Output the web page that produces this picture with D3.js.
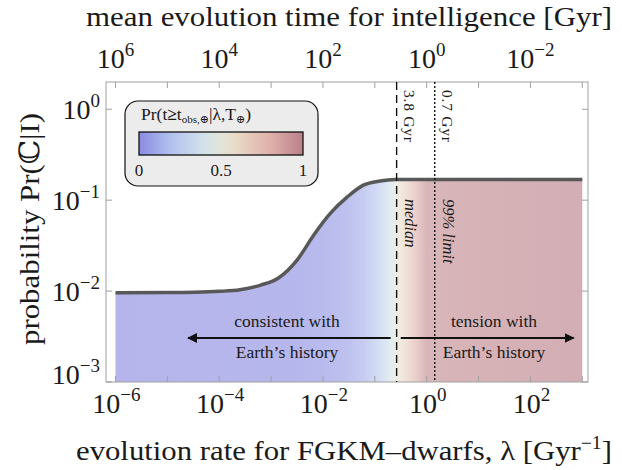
<!DOCTYPE html>
<html>
<head>
<meta charset="utf-8">
<script src="https://cdn.jsdelivr.net/npm/d3@7"></script>
<style>
  body { margin: 0; background: #fff; }
  svg { display: block; }
  text { font-family: "Liberation Serif", "DejaVu Serif", serif; fill: #1a1a1a; }
</style>
</head>
<body>
<script>
// ---- data ----
// probability curve, x given as log10(lambda) [Gyr^-1]
var logLambda   = [-6, -5, -4.5, -4, -3.6, -3.2, -2.85, -2.5, -2.18, -1.85, -1.53, -1.22, -0.9, -0.6, -0.3, 0, 1, 2, 3];
var probability = [0.00957, 0.00962, 0.0097, 0.00993, 0.01035, 0.01164, 0.01403, 0.0219, 0.0412, 0.0724, 0.1086, 0.1462, 0.1626, 0.1687, 0.169, 0.169, 0.169, 0.169, 0.169];

// shading under the curve: Pr(t >= t_obs) at a few rates
var shadeLambda = [1e-6, 3e-3, 1e-2, 3e-2, 0.06, 0.13, 0.2, 0.263, 0.32, 0.43, 0.62, 1.0, 1e3];
var shadeValue  = [0, 0.01, 0.03, 0.07, 0.13, 0.27, 0.4, 0.5, 0.57, 0.66, 0.8, 0.95, 1];

// colour bar
var barStops  = [0, 0.2, 0.4, 0.5, 0.6, 0.8, 1];
var barColors = ['#8b8be0', '#b3c3ef', '#d3e2e8', '#e3e4d9', '#e9d8c6', '#dfb1ab', '#b9808a'];
var barLabels = [0, 0.5, 1];

// reference times [Gyr]
var markTimes  = [3.8, 0.7];
var markLabels = ['3.8 Gyr', '0.7 Gyr'];
var markNotes  = ['median', '99% limit'];

// ticks (powers of ten)
var xTickExp   = [-6, -4, -2, 0, 2];
var topTickExp = [6, 4, 2, 0, -2];
var yTickExp   = [0, -1, -2, -3];

// ---- drawing ----
var W = 622, H = 470;
var box = {left: 106, right: 588, top: 82, bottom: 382};

var svg = d3.select(document.body).append('svg')
    .attr('width', W).attr('height', H);

var x = d3.scaleLog().domain([Math.pow(10, -6.183), Math.pow(10, 3.11)]).range([box.left, box.right]);
var xt = d3.scaleLog().domain([1 / x.domain()[0], 1 / x.domain()[1]]).range([box.left, box.right]);
var y = d3.scaleLog().domain([1e-3, Math.pow(10, 0.3)]).range([box.bottom, box.top]);

var barScale = d3.scaleLinear().domain(barStops).range(barColors).interpolate(d3.interpolateRgb);

var pts = logLambda.map(function(l, i){ return {lam: Math.pow(10, l), p: probability[i]}; });

var defs = svg.append('defs');
var x0 = x(shadeLambda[0]), x1 = x(shadeLambda[shadeLambda.length - 1]);
var grad = defs.append('linearGradient').attr('id', 'shade')
    .attr('gradientUnits', 'userSpaceOnUse')
    .attr('x1', x0).attr('x2', x1).attr('y1', 0).attr('y2', 0);
grad.selectAll('stop').data(shadeLambda).enter().append('stop')
    .attr('offset', function(d){ return (x(d) - x0) / (x1 - x0); })
    .attr('stop-color', function(d, i){ return barScale(shadeValue[i]); });

var bar = defs.append('linearGradient').attr('id', 'bar');
bar.selectAll('stop').data(barStops).enter().append('stop')
    .attr('offset', function(d){ return d; })
    .attr('stop-color', function(d, i){ return barColors[i]; });

// shaded area under curve
var area = d3.area()
    .x(function(d){ return x(d.lam); })
    .y0(y(1e-3))
    .y1(function(d){ return y(d.p); })
    .curve(d3.curveMonotoneX);
svg.append('path').datum(pts).attr('d', area)
    .attr('fill', 'url(#shade)').attr('fill-opacity', 0.64);

// frame + ticks
svg.append('rect').attr('x', box.left).attr('y', box.top)
    .attr('width', box.right - box.left).attr('height', box.bottom - box.top)
    .attr('fill', 'none').attr('stroke', '#a0a0a0').attr('stroke-width', 1);

var decades = d3.range(-6, 4);
var tk = svg.append('g').attr('stroke', '#a0a0a0').attr('stroke-width', 1);
decades.forEach(function(k){
    var px = x(Math.pow(10, k));
    tk.append('line').attr('x1', px).attr('x2', px).attr('y1', box.bottom).attr('y2', box.bottom - 6);
    tk.append('line').attr('x1', px).attr('x2', px).attr('y1', box.top).attr('y2', box.top + 6);
});
d3.range(-3, 1).forEach(function(k){
    var py = y(Math.pow(10, k));
    tk.append('line').attr('x1', box.left).attr('x2', box.left + 6).attr('y1', py).attr('y2', py);
    tk.append('line').attr('x1', box.right).attr('x2', box.right - 6).attr('y1', py).attr('y2', py);
});

// power-of-ten label
function pow10(sel, e, size){
    sel.append('tspan').text('10');
    sel.append('tspan').attr('dy', -size * 0.42).attr('font-size', size * 0.68)
        .text(e < 0 ? '\u2212' + Math.abs(e) : e);
}

var fs = 28;
xTickExp.forEach(function(e){
    var t = svg.append('text').attr('x', x(Math.pow(10, e)) + 1).attr('y', 413)
        .attr('text-anchor', 'middle').attr('font-size', fs);
    pow10(t, e, fs);
});
topTickExp.forEach(function(e){
    var t = svg.append('text').attr('x', xt(Math.pow(10, e))).attr('y', 68)
        .attr('text-anchor', 'middle').attr('font-size', fs);
    pow10(t, e, fs);
});
yTickExp.forEach(function(e){
    var py = y(Math.pow(10, e)) + 9.5;
    if (e === -3) py = 384;
    var t = svg.append('text').attr('x', 100).attr('y', py)
        .attr('text-anchor', 'end').attr('font-size', fs);
    pow10(t, e, fs);
});

// curve
var line = d3.line()
    .x(function(d){ return x(d.lam); })
    .y(function(d){ return y(d.p); })
    .curve(d3.curveMonotoneX);
svg.append('path').datum(pts).attr('d', line)
    .attr('fill', 'none').attr('stroke', '#585858').attr('stroke-width', 3.5);

// median and 99% limit lines
markTimes.forEach(function(t, i){
    var px = x(1 / t);
    svg.append('line').attr('x1', px).attr('x2', px).attr('y1', box.top).attr('y2', box.bottom)
        .attr('stroke', '#111').attr('stroke-width', 1.4)
        .attr('stroke-dasharray', i === 0 ? '8,5' : '2,2');
    svg.append('text').attr('transform', 'translate(' + (px + 7) + ',' + 90 + ') rotate(90)')
        .attr('font-size', 15.5).attr('textLength', 52).text(markLabels[i]);
    svg.append('text').attr('transform', 'translate(' + (px + 8) + ',' + 199 + ') rotate(90)')
        .attr('font-size', 16.5).attr('font-style', 'italic').text(markNotes[i]);
});

// arrows
defs.append('marker').attr('id', 'head').attr('viewBox', '0 0 10 10')
    .attr('refX', 9).attr('refY', 5).attr('markerWidth', 5).attr('markerHeight', 5)
    .attr('orient', 'auto-start-reverse')
    .append('path').attr('d', 'M0,0 L10,5 L0,10 z').attr('fill', '#111');

var arrowP = 0.00305;
var arrows = [[0.202, 2.5e-5], [0.316, 682]];
arrows.forEach(function(a){
    svg.append('line').attr('x1', x(a[0])).attr('x2', x(a[1]))
        .attr('y1', y(arrowP)).attr('y2', y(arrowP))
        .attr('stroke', '#111').attr('stroke-width', 2)
        .attr('marker-end', 'url(#head)');
});
var notes = [
    {cx: 287, lines: ['consistent with', 'Earth\u2019s history']},
    {cx: 494, lines: ['tension with', 'Earth\u2019s history']}
];
notes.forEach(function(n){
    svg.append('text').attr('x', n.cx).attr('y', y(arrowP) - 11)
        .attr('text-anchor', 'middle').attr('font-size', 17.5).text(n.lines[0]);
    svg.append('text').attr('x', n.cx).attr('y', y(arrowP) + 20)
        .attr('text-anchor', 'middle').attr('font-size', 17.5).text(n.lines[1]);
});

// legend box with colour bar
var lg = svg.append('g');
lg.append('rect').attr('x', 125).attr('y', 101).attr('width', 193).attr('height', 85)
    .attr('rx', 13).attr('fill', '#ececec').attr('stroke', '#111').attr('stroke-width', 1.2);
var lt = lg.append('text').attr('x', 141).attr('y', 120).attr('font-size', 17.5);
lt.append('tspan').text('Pr(t');
lt.append('tspan').attr('font-weight', 'bold').text('\u2265');
lt.append('tspan').text('t');
lt.append('tspan').attr('font-size', 11).attr('dy', 3).text('obs,\u2295');
lt.append('tspan').attr('dy', -3).text('|\u03bb,T');
lt.append('tspan').attr('font-size', 11).attr('dy', 3).text('\u2295');
lt.append('tspan').attr('dy', -3).text(')');

var barX = d3.scaleLinear().domain([0, 1]).range([139, 303]);
lg.append('rect').attr('x', barX(0)).attr('y', 132).attr('width', barX(1) - barX(0)).attr('height', 23)
    .attr('fill', 'url(#bar)').attr('stroke', '#111').attr('stroke-width', 1.3);
barLabels.forEach(function(v){
    lg.append('text').attr('x', barX(v)).attr('y', 176).attr('text-anchor', 'middle')
        .attr('font-size', 17).text(v);
});

// axis titles
svg.append('text').attr('x', 86).attr('y', 26)
    .attr('font-size', 27).attr('textLength', 526).attr('lengthAdjust', 'spacingAndGlyphs')
    .text('mean evolution time for intelligence [Gyr]');

var xl = svg.append('text').attr('x', 76).attr('y', 460).attr('font-size', 28)
    .attr('textLength', 536).attr('lengthAdjust', 'spacingAndGlyphs');
xl.append('tspan').text('evolution rate for FGKM\u2013dwarfs, \u03bb [Gyr');
xl.append('tspan').attr('font-size', 18).attr('dy', -11).text('\u22121');
xl.append('tspan').attr('dy', 11).text(']');

svg.append('text').attr('transform', 'translate(39,345) rotate(-90)')
    .attr('font-size', 28).attr('textLength', 232).attr('lengthAdjust', 'spacingAndGlyphs')
    .text('probability Pr(\u2102|I)');
</script>
</body>
</html>
